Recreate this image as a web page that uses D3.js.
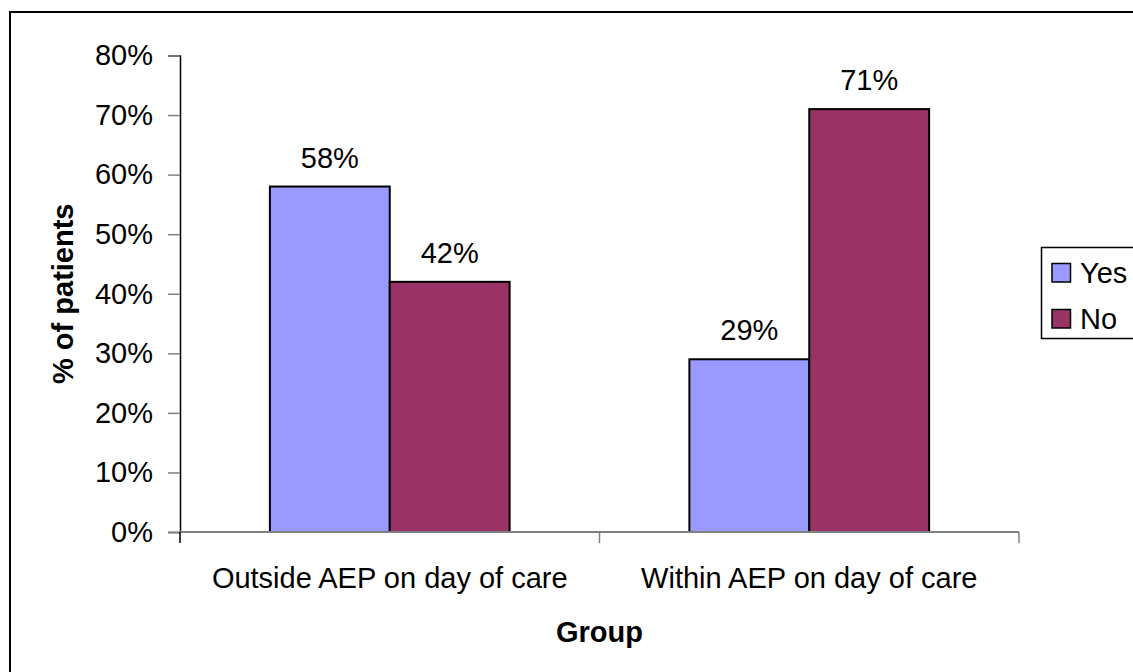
<!DOCTYPE html>
<html>
<head>
<meta charset="utf-8">
<script src="https://cdn.jsdelivr.net/npm/d3@7"></script>
<style>
  html, body { margin: 0; padding: 0; background: #fff; }
  svg { display: block; font-family: "Liberation Sans", Arial, sans-serif; }
</style>
</head>
<body>
<svg id="chart" width="1133" height="672"></svg>
<script>
// Share of patients by group, split by answer
const groups = ["Outside AEP on day of care", "Within AEP on day of care"];
const seriesNames = ["Yes", "No"];
const yesValues = [0.58, 0.29];
const noValues = [0.42, 0.71];
const yTicks = [0, 0.1, 0.2, 0.3, 0.4, 0.5, 0.6, 0.7, 0.8];
const seriesColors = ["#9999FF", "#993366"];

const FONT = 29;
const svg = d3.select("#chart");

// outer frame
svg.append("rect")
  .attr("x", 10).attr("y", 12)
  .attr("width", 1140).attr("height", 680)
  .attr("fill", "none").attr("stroke", "#000").attr("stroke-width", 2);

const plot = { left: 180, right: 1019, top: 55.5, bottom: 532 };

const x = d3.scaleBand().domain(groups).range([plot.left, plot.right]);
const inner = d3.scaleBand().domain(seriesNames)
  .range([0, x.bandwidth()]).paddingOuter(0.75).paddingInner(0);
const y = d3.scaleLinear().domain([0, 0.8]).range([plot.bottom, plot.top]);

const fmt = d3.format(".0%");

// bars
const rows = groups.map((g, i) => ({ g, vals: [yesValues[i], noValues[i]] }));
const gGroup = svg.selectAll("g.grp").data(rows).join("g")
  .attr("class", "grp")
  .attr("transform", d => `translate(${x(d.g)},0)`);

gGroup.selectAll("rect").data(d => d.vals.map((v, k) => ({ v, k }))).join("rect")
  .attr("x", d => inner(seriesNames[d.k]))
  .attr("y", d => y(d.v))
  .attr("width", inner.bandwidth())
  .attr("height", d => y(0) - y(d.v))
  .attr("fill", d => seriesColors[d.k])
  .attr("stroke", "#000").attr("stroke-width", 2);

gGroup.selectAll("text.lbl").data(d => d.vals.map((v, k) => ({ v, k }))).join("text")
  .attr("class", "lbl")
  .attr("x", d => inner(seriesNames[d.k]) + inner.bandwidth() / 2)
  .attr("y", d => y(d.v) - 19)
  .attr("text-anchor", "middle")
  .attr("font-size", FONT)
  .text(d => fmt(d.v));

// y axis
const yAxis = svg.append("g")
  .attr("transform", `translate(${plot.left},0)`)
  .call(d3.axisLeft(y).tickValues(yTicks).tickFormat(fmt).tickSize(12).tickPadding(15));
yAxis.select(".domain").attr("stroke", "#000").attr("stroke-width", 1.5);
yAxis.selectAll(".tick line").attr("stroke", "#808080").attr("stroke-width", 1.5);
yAxis.selectAll(".tick text").attr("font-size", FONT).attr("fill", "#000");

// x axis with ticks at category boundaries
const xAxis = svg.append("g").attr("transform", `translate(0,${plot.bottom})`);
xAxis.append("line")
  .attr("x1", plot.left).attr("x2", plot.right)
  .attr("stroke", "#808080").attr("stroke-width", 2);
const bounds = groups.map(g => x(g)).concat([x(groups[groups.length - 1]) + x.bandwidth()]);
xAxis.selectAll("line.tk").data(bounds).join("line")
  .attr("class", "tk")
  .attr("x1", d => d).attr("x2", d => d)
  .attr("y1", 0).attr("y2", 11)
  .attr("stroke", (d, i) => i === 0 ? "#000" : "#808080").attr("stroke-width", 1.5);
xAxis.selectAll("text").data(groups).join("text")
  .attr("x", d => x(d) + x.bandwidth() / 2)
  .attr("y", 56)
  .attr("text-anchor", "middle")
  .attr("font-size", FONT)
  .text(d => d);

// axis titles
svg.append("text")
  .attr("x", (plot.left + plot.right) / 2).attr("y", 642)
  .attr("text-anchor", "middle")
  .attr("font-size", FONT).attr("font-weight", "bold")
  .text("Group");
svg.append("text")
  .attr("transform", `translate(73,${(plot.top + plot.bottom) / 2}) rotate(-90)`)
  .attr("text-anchor", "middle")
  .attr("font-size", FONT).attr("font-weight", "bold")
  .text("% of patients");

// legend
const legend = svg.append("g");
legend.append("rect")
  .attr("x", 1041.5).attr("y", 247.5)
  .attr("width", 110).attr("height", 91)
  .attr("fill", "#fff").attr("stroke", "#000").attr("stroke-width", 1.5);
seriesNames.forEach((name, i) => {
  legend.append("rect")
    .attr("x", 1052).attr("y", 263.5 + i * 46)
    .attr("width", 18.5).attr("height", 18.5)
    .attr("fill", seriesColors[i]).attr("stroke", "#000").attr("stroke-width", 1.5);
  legend.append("text")
    .attr("x", 1080).attr("y", 283 + i * 45.5)
    .attr("font-size", FONT)
    .text(name);
});
</script>
</body>
</html>
